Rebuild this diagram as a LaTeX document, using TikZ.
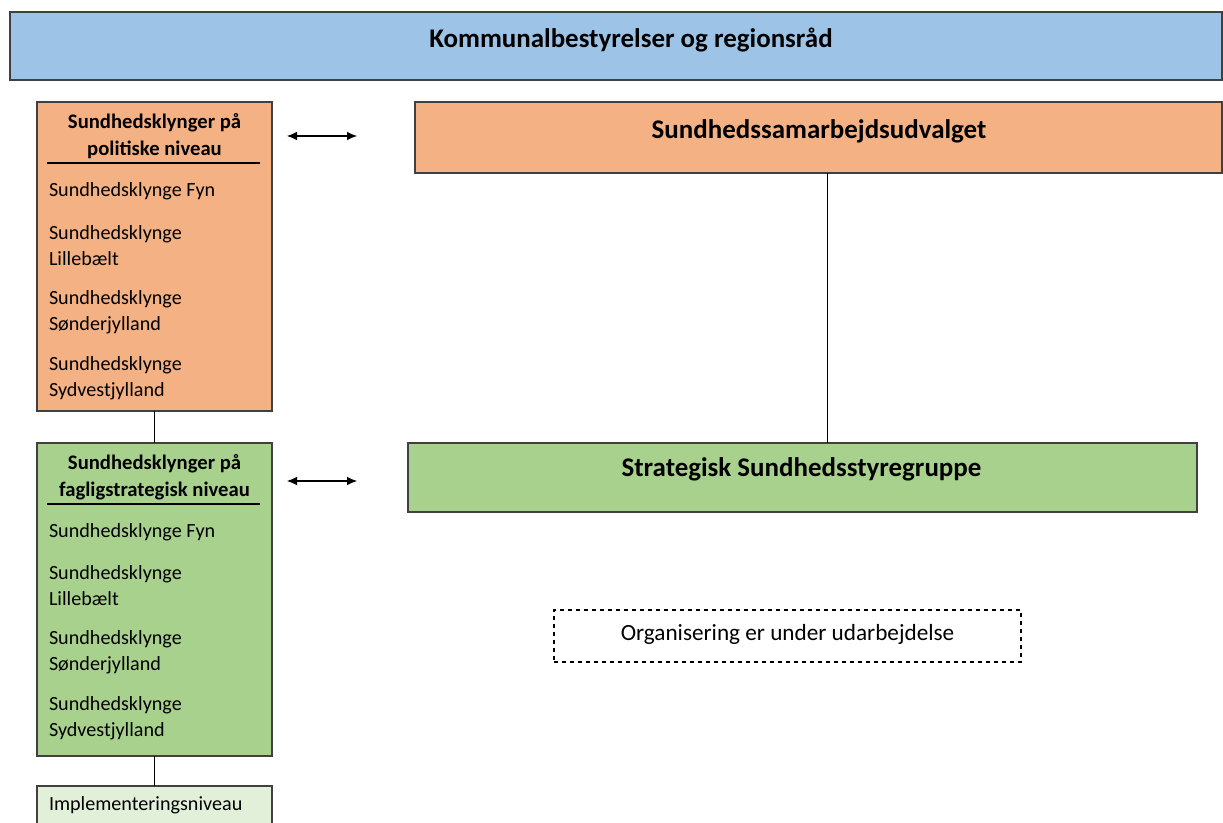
\documentclass[tikz,border=0pt]{standalone}
\usepackage{fontspec}
\setmainfont{Carlito}
\usetikzlibrary{arrows.meta}

\definecolor{raadblue}{HTML}{9DC3E6}
\definecolor{politorange}{HTML}{F4B183}
\definecolor{fagliggreen}{HTML}{A9D18E}
\definecolor{implgreen}{HTML}{E2F0D9}
\definecolor{boxgrey}{HTML}{404040}

\begin{document}
\begin{tikzpicture}[x=0.75pt,y=-0.75pt,
every node/.style={
rectangle,
align = center,
inner sep=0pt,
outer sep=0pt,
},
box/.style={
draw=boxgrey,
line width=1pt,
anchor=north west,
},
bigtitle/.style={font=\bfseries\fontsize{20.2}{24}\selectfont},
head/.style={font=\bfseries\fontsize{15.5}{20}\selectfont},
item/.style={anchor=west,align=left,font=\fontsize{15.1}{19.5}\selectfont},
link/.style={line width=0.8pt,{Latex[length=7.5pt,width=6.5pt]}-{Latex[length=7.5pt,width=6.5pt]}}]

\useasboundingbox (0,0) rectangle (1223,823);

%Kommunalbestyrelser
\node[box,fill=raadblue,minimum width=909pt,minimum height=51pt](raad)at(10,12){};
\node[bigtitle](raadtxt)at(631,40){Kommunalbestyrelser og regionsråd};

%politisk niveau
\node[box,fill=politorange,minimum width=176.25pt,minimum height=231.75pt](polit)at(37,102){};
\node[head](polithead)at(154.5,136){Sundhedsklynger på\\politiske niveau};
\draw[line width=0.8pt](47,163)coordinate(pl1)--(260,163)coordinate(pl2);
\node[item](p1)at(49,191){Sundhedsklynge Fyn};
\node[item](p2)at(49,246){Sundhedsklynge\\Lillebælt};
\node[item](p3)at(49,312){Sundhedsklynge\\Sønderjylland};
\node[item](p4)at(49,378){Sundhedsklynge\\Sydvestjylland};

\node[box,fill=politorange,minimum width=605.25pt,minimum height=53.25pt](samu)at(415,102){};
\node[bigtitle](samutxt)at(819,131){Sundhedssamarbejdsudvalget};

%fagligstrategisk niveau
\node[box,fill=fagliggreen,minimum width=176.25pt,minimum height=234.75pt](faglig)at(37,443){};
\node[head](fagliphead)at(154.5,477){Sundhedsklynger på\\fagligstrategisk niveau};
\draw[line width=0.8pt](47,504)coordinate(fl1)--(260,504)coordinate(fl2);
\node[item](f1)at(49,532){Sundhedsklynge Fyn};
\node[item](f2)at(49,586){Sundhedsklynge\\Lillebælt};
\node[item](f3)at(49,652){Sundhedsklynge\\Sønderjylland};
\node[item](f4)at(49,718){Sundhedsklynge\\Sydvestjylland};

\node[box,fill=fagliggreen,minimum width=591.75pt,minimum height=51.75pt](strat)at(408,443){};
\node[bigtitle](strattxt)at(801.5,469){Strategisk Sundhedsstyregruppe};

%under udarbejdelse
\node[box,draw=black,line width=0.8pt,dashed,minimum width=350.25pt,minimum height=39pt](org)at(554,610){};
\node[font=\fontsize{17.4}{20}\selectfont](orgtxt)at(787.5,634){Organisering er under udarbejdelse};

%implementering
\node[box,fill=implgreen,minimum width=176.25pt,minimum height=37.5pt](impl)at(37,786){};
\node[item](impltxt)at(49,805){Implementeringsniveau};

%forbindelser
\draw[line width=0.75pt](polit.south)--(faglig.north);
\draw[line width=0.75pt](faglig.south)--(impl.north);
\coordinate(stem)at(827,173);
\draw[line width=0.75pt](stem)--(stem|-strat.north);
\coordinate(pa)at(287,136);
\coordinate(pb)at(357,136);
\draw[link](pa)--(pb);
\coordinate(fa)at(287,481);
\coordinate(fb)at(357,481);
\draw[link](fa)--(fb);
\end{tikzpicture}
\end{document}
